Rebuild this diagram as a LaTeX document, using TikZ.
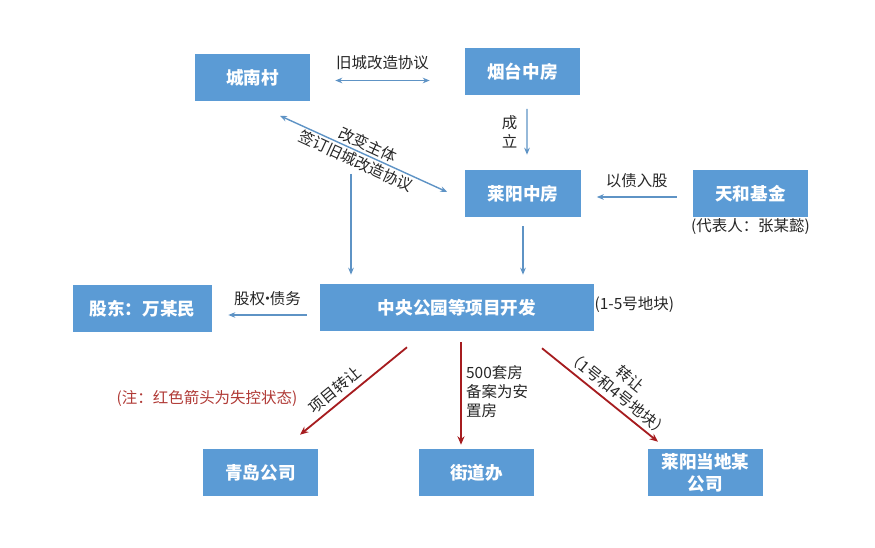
\documentclass[tikz,border=0pt]{standalone}
\usepackage{fontspec}
\setmainfont{Noto Sans CJK SC}
\usepackage{tikz}
\usetikzlibrary{arrows.meta, calc}
\definecolor{boxblue}{HTML}{5B9BD5}
\definecolor{lineblue}{HTML}{5E93C5}
\definecolor{linered}{HTML}{A61C1F}
\definecolor{notered}{HTML}{B03A36}
\tikzset{
  boite/.style={fill=boxblue, text=white, font=\bfseries\fontsize{12.5}{15.5}\selectfont,
    minimum width=81.8pt, minimum height=33.4pt, inner sep=0pt, align=center},
  etiq/.style={font=\fontsize{11}{13.5}\selectfont, text=black!85},
  flbleu/.style={draw=lineblue, line width=1pt, -{Stealth[length=5pt,width=4pt]}},
  flbleudouble/.style={draw=lineblue, line width=1pt,
    {Stealth[length=5pt,width=4pt]}-{Stealth[length=5pt,width=4pt]}},
  flrouge/.style={draw=linered, line width=1.3pt, -{Stealth[length=6pt,width=5pt]}},
}

\begin{document}
\begin{tikzpicture}[x=0.025cm, y=0.025cm]
  \useasboundingbox (0,0) rectangle (875,547);
  % Boites du haut
  \node[boite] (cn) at (252.5,469.5) {城南村};
  \node[boite] (yt) at (522.5,475.5) {烟台中房};
  \node[boite] (lz) at (523,353.5) {莱阳中房};
  \node[boite] (th) at (750.5,353.5) {天和基金};
  \node[etiq, anchor=north, inner sep=1pt] (rep) at (th.south) {(代表人：张某懿)};
  % Projet et actionnaire
  \node[boite, minimum width=194.9pt] (ct) at (457,239.5) {中央公园等项目开发};
  \node[boite, minimum width=98.9pt] (gd) at (142.5,238.5) {股东：万某民};
  \node[etiq, anchor=west, inner sep=0pt] (dk) at ($(ct.east)+(0,3)$) {(1-5号地块)};
  % Boites du bas
  \foreach \nom/\xx/\txt in {qd/260.5/青岛公司, jd/476.5/街道办, ly/705.5/{莱阳当地某\\公司}}{
    \node[boite] (\nom) at (\xx,74.5) {\txt};
  }
  \node[etiq, text=notered] (note) at (207,149) {(注：红色箭头为失控状态)};
  % Fleches bleues
  \draw[flbleudouble] ($(cn.east)+(25,-3)$) -- ($(yt.west)+(-35,-9)$)
    node[midway, above=4pt, etiq] {旧城改造协议};
  \draw[flbleu] ($(yt.south)+(4.5,-13.5)$) -- ($(lz.north)+(4,15)$)
    node[midway, left=3pt, etiq, align=center] {成\\立};
  \draw[flbleudouble] ($(cn.south)+(27.5,-14.5)$) -- ($(lz.west)+(-18,1.5)$)
    node[pos=0.5, etiq, rotate=-24.8, anchor=south, inner sep=1.5pt] {改变主体}
    node[pos=0.48, etiq, rotate=-24.8, anchor=north, inner sep=1.2pt] {签订旧城改造协议};
  \coordinate (sign) at (351,373);
  \draw[flbleu] (sign) -- ($(sign |- ct.north)+(0,9)$);
  \draw[flbleu] ($(lz.south)+(0,-9)$) -- ($(lz.south |- ct.north)+(0,9)$);
  \draw[flbleu] ($(th.west)+(-16,-3.5)$) -- ($(lz.east)+(16,-3.5)$)
    node[midway, above=3pt, etiq] {以债入股};
  \draw[flbleu] ($(ct.west)+(-13,-7.5)$) -- ($(gd.east)+(16,-6.5)$)
    node[midway, above=3pt, etiq] {股权\kern-0.35em·\kern-0.35em债务};
  % Fleches rouges (perte de controle)
  \draw[flrouge] ($(ct.south)+(-50,-16)$) -- ($(qd.north)+(39.5,14)$)
    node[pos=0.6, etiq, rotate=39.4, anchor=south, inner sep=3pt] {项目转让};
  \draw[flrouge] ($(ct.south)+(4,-11)$) -- ($(ct.south |- jd.north)+(4,4)$)
    node[pos=0.18, etiq, anchor=north west, inner sep=3pt, align=left] {500套房\\备案为安\\置房};
  \draw[flrouge] ($(ct.south)+(85,-17)$) -- ($(ly.north)+(-47.5,7)$)
    node[pos=0.59, etiq, rotate=-39, anchor=south, inner sep=3pt, align=center] {转让\\（1号和4号地块）};
\end{tikzpicture}
\end{document}
